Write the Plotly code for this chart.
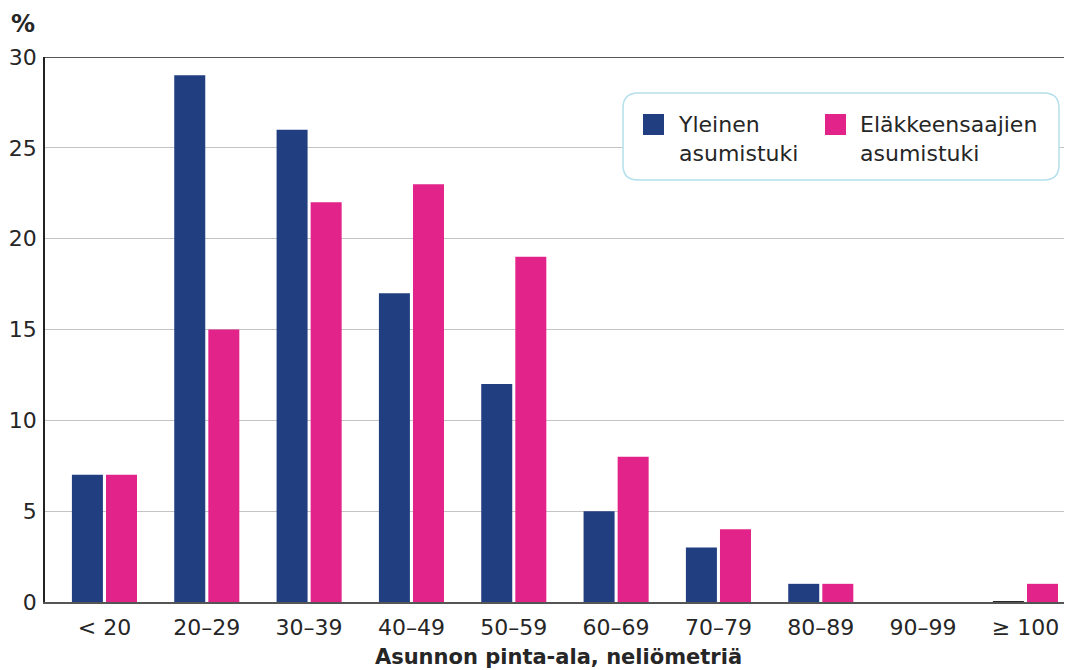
import plotly.graph_objects as go

categories = ["< 20", "20–29", "30–39", "40–49", "50–59", "60–69", "70–79", "80–89", "90–99", "≥ 100"]
yleinen = [7, 29, 26, 17, 12, 5, 3, 1, 0, 0]
elakkeensaajien = [7, 15, 22, 23, 19, 8, 4, 1, 0, 1]
series_names = ["Yleinen<br>asumistuki", "Eläkkeensaajien<br>asumistuki"]
y_ticks = [0, 5, 10, 15, 20, 25, 30]

BLUE = "#213f80"
PINK = "#e2238a"
FONT = "DejaVu Sans"
TXT = "#262626"

# page body has an 8px margin; figure is sized to fill the 1072x670 window
OFF = 8
W, H = 1072 - OFF, 670 - OFF
L, R, T, B = 45 - OFF, 0, 57 - OFF, 670 - 602
PW, PH = W - L - R, H - T - B

def px(xs):
    return (xs - OFF - L) / PW

def py(ys):
    return (H - B - (ys - OFF)) / PH

fig = go.Figure()
fig.add_trace(go.Bar(
    x=list(range(len(categories))), y=yleinen, name=series_names[0],
    marker=dict(color=BLUE,
                line=dict(color="#2a2a2a", width=[0] * 9 + [2])),
    width=0.303, offset=-0.318, showlegend=False,
))
fig.add_trace(go.Bar(
    x=list(range(len(categories))), y=elakkeensaajien, name=series_names[1],
    marker=dict(color=PINK, line=dict(width=0)),
    width=0.303, offset=0.015, showlegend=False,
))

# top border line at 30
fig.add_shape(type="line", xref="paper", yref="y", x0=0, x1=1, y0=30, y1=30,
              line=dict(color="#555555", width=2), layer="above")

# legend box (rounded)
x0p, x1p, y0p, y1p = 623, 1059, 93, 180
r = 15
rx, ry = r / PW, r / PH
X0, X1, Y0, Y1 = px(x0p), px(x1p), py(y1p), py(y0p)
path = (f"M {X0+rx},{Y1} L {X1-rx},{Y1} Q {X1},{Y1} {X1},{Y1-ry} "
        f"L {X1},{Y0+ry} Q {X1},{Y0} {X1-rx},{Y0} L {X0+rx},{Y0} "
        f"Q {X0},{Y0} {X0},{Y0+ry} L {X0},{Y1-ry} Q {X0},{Y1} {X0+rx},{Y1} Z")
fig.add_shape(type="path", xref="paper", yref="paper", path=path,
              line=dict(color="#b3e0ec", width=1.5), fillcolor="white", layer="above")

# legend squares and labels
for (sx, col, tx, name) in [(643, BLUE, 676, series_names[0]), (825, PINK, 858, series_names[1])]:
    fig.add_shape(type="rect", xref="paper", yref="paper",
                  x0=px(sx), x1=px(sx + 21), y0=py(135), y1=py(114),
                  fillcolor=col, line=dict(width=0), layer="above")
    fig.add_annotation(x=px(tx), y=py(110), xref="paper", yref="paper",
                       text=name, showarrow=False, xanchor="left", yanchor="top",
                       align="left", font=dict(family=FONT, size=22, color=TXT))

# % label
fig.add_annotation(x=px(9), y=py(8), xref="paper", yref="paper", text="<b>%</b>",
                   showarrow=False, xanchor="left", yanchor="top",
                   font=dict(family=FONT, size=24, color=TXT))

fig.update_layout(
    width=W, height=H,
    margin=dict(l=L, r=R, t=T, b=B, autoexpand=False),
    paper_bgcolor="white", plot_bgcolor="white",
    barmode="overlay",
    showlegend=False,
    font=dict(family=FONT, size=22, color=TXT),
    xaxis=dict(
        range=[-0.581, 9.455], automargin=False,
        tickmode="array", tickvals=list(range(len(categories))), ticktext=categories,
        showgrid=False, zeroline=False,
        showline=True, linecolor="#555555", linewidth=2,
        ticks="", ticklabelstandoff=5,
        tickfont=dict(family=FONT, size=22, color=TXT),
        title=dict(text="<b>Asunnon pinta-ala, neliömetriä</b>",
                   font=dict(family=FONT, size=21, color=TXT), standoff=10),
    ),
    yaxis=dict(
        range=[0, 30], automargin=False,
        tickmode="array", tickvals=y_ticks,
        showgrid=True, gridcolor="#c4c4c4", gridwidth=1,
        zeroline=False,
        showline=True, linecolor="#222222", linewidth=1.5,
        ticks="", ticklabelstandoff=2,
        tickfont=dict(family=FONT, size=22, color=TXT),
    ),
)

fig.write_html("out.html")
